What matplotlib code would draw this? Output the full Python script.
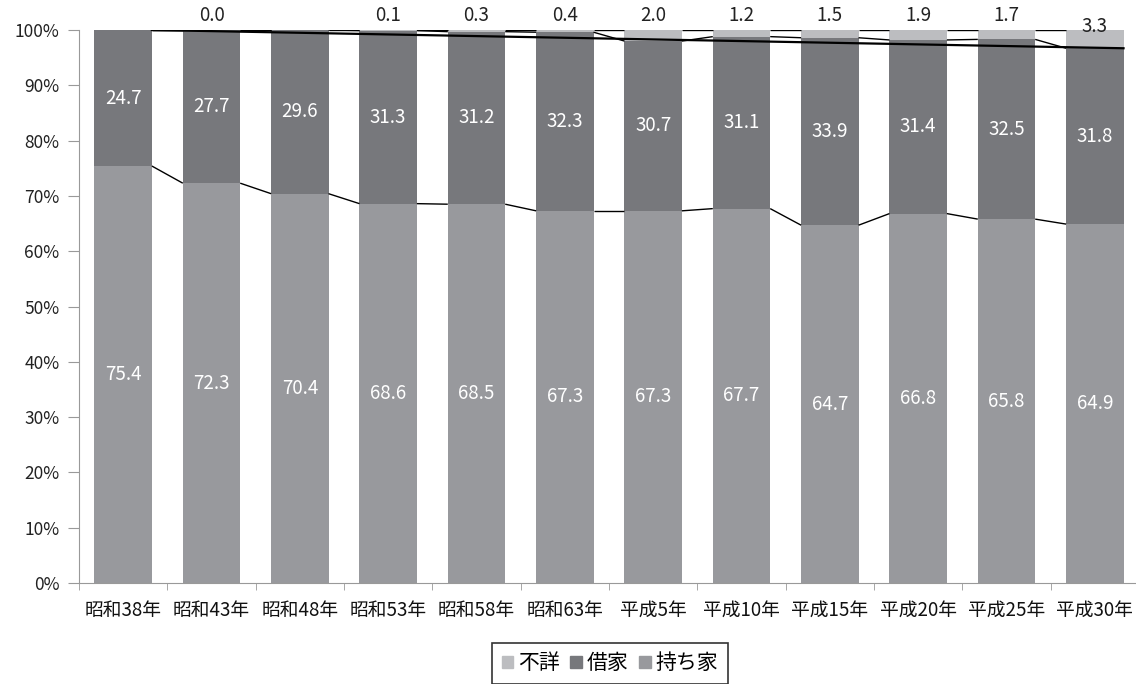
import matplotlib
matplotlib.use("Agg")
import matplotlib.pyplot as plt
from matplotlib.patches import Patch
import numpy as np

plt.rcParams['font.family'] = ['Noto Sans CJK JP', 'DejaVu Sans']

years = ["昭和38年", "昭和43年", "昭和48年", "昭和53年", "昭和58年", "昭和63年",
         "平成5年", "平成10年", "平成15年", "平成20年", "平成25年", "平成30年"]
owned = [75.4, 72.3, 70.4, 68.6, 68.5, 67.3, 67.3, 67.7, 64.7, 66.8, 65.8, 64.9]
rented = [24.7, 27.7, 29.6, 31.3, 31.2, 32.3, 30.7, 31.1, 33.9, 31.4, 32.5, 31.8]
unknown = [np.nan, 0.0, np.nan, 0.1, 0.3, 0.4, 2.0, 1.2, 1.5, 1.9, 1.7, 3.3]

c_owned = "#98999d"
c_rented = "#77787c"
c_unknown = "#bcbdc0"

fig = plt.figure(figsize=(11.36, 6.84), dpi=100)
ax = fig.add_axes([79 / 1136, 101 / 684, 1060 / 1136, 553 / 684])

x = np.arange(len(years))
w = 0.65
owned_a = np.array(owned)
rented_a = np.array(rented)
unk_a = np.nan_to_num(np.array(unknown))
# stack, clipped to 100%
rent_top = np.minimum(owned_a + rented_a, 100.0)
rent_h = rent_top - owned_a
unk_h = np.maximum(100.0 - rent_top, 0) * (unk_a > 0)

ax.bar(x, owned_a, w, color=c_owned, zorder=2)
ax.bar(x, rent_h, w, bottom=owned_a, color=c_rented, zorder=2)
ax.bar(x, unk_h, w, bottom=rent_top, color=c_unknown, zorder=2)

# series lines between bars
levels = [owned_a, rent_top, np.full(len(x), 100.0)]
for lv in levels:
    for i in range(len(x) - 1):
        ax.plot([x[i] + w / 2, x[i + 1] - w / 2], [lv[i], lv[i + 1]],
                color="black", lw=1.0, zorder=3, solid_capstyle="butt")

# trend line across tops
ax.plot([x[0] + w / 2, x[-1] + w / 2], [100.0, rent_top[-1]],
        color="black", lw=1.6, zorder=4)

# data labels
for i in range(len(x)):
    ax.text(x[i], owned_a[i] / 2, f"{owned[i]:.1f}", ha="center", va="center",
            color="white", fontsize=13.5, zorder=5)
    ax.text(x[i], owned_a[i] + rent_h[i] / 2, f"{rented[i]:.1f}", ha="center",
            va="center", color="white", fontsize=13.5, zorder=5)
    if not np.isnan(unknown[i]):
        y = 102.7 if unknown[i] < 3 else 100.6
        ax.text(x[i], y, f"{unknown[i]:.1f}", ha="center", va="center",
                color="#222222", fontsize=13.5, zorder=5)

ax.set_xlim(-0.5, len(x) - 0.5)
ax.set_ylim(0, 100)
ax.set_yticks(np.arange(0, 101, 10))
ax.set_yticklabels([f"{v}%" for v in range(0, 101, 10)], fontsize=12.5, color="#222222")
ax.set_xticks(x)
ax.set_xticklabels(years, fontsize=13.5, color="#111111")
ax.set_xticks(np.arange(-0.5, len(x), 1), minor=True)
ax.tick_params(axis="x", which="major", length=0, pad=12)
ax.tick_params(axis="x", which="minor", length=5, color="#999999", direction="out")
ax.tick_params(axis="y", length=8, color="#999999", direction="out", pad=6)
for s in ["top", "right"]:
    ax.spines[s].set_visible(False)
ax.spines["left"].set_color("#999999")
ax.spines["bottom"].set_color("#999999")

handles = [Patch(color=c_unknown, label="不詳"),
           Patch(color=c_rented, label="借家"),
           Patch(color=c_owned, label="持ち家")]
leg = fig.legend(handles=handles, loc="upper center", bbox_to_anchor=(0.537, 0.06),
                 ncol=3, frameon=True, fancybox=False, fontsize=15,
                 handlelength=0.55, handleheight=0.55, handletextpad=0.25,
                 columnspacing=0.5, borderpad=0.45, borderaxespad=0)
leg.get_frame().set_edgecolor("black")
leg.get_frame().set_linewidth(1.2)

fig.savefig("out.png", dpi=100)
